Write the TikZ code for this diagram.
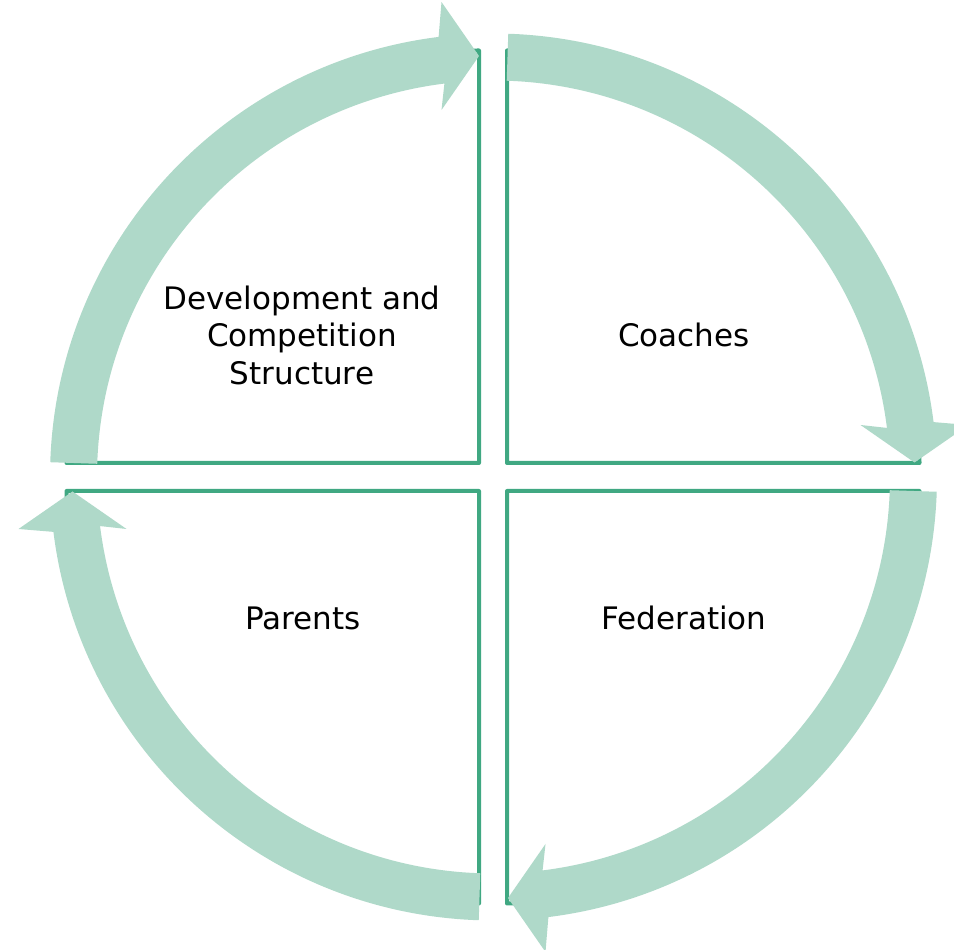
\documentclass[tikz,border=0pt]{standalone}
\usepackage{fontspec}
\setmainfont{DejaVu Sans}
\definecolor{arrowfill}{HTML}{AFD9C9}
\definecolor{boxline}{HTML}{40A882}
\begin{document}
\begin{tikzpicture}[x=1pt,y=1pt,
  quadrant/.style={draw=boxline,line width=4pt,line join=round,fill=white},
  cyclearrow/.style={fill=arrowfill},
  label/.style={font=\fontsize{31}{37.5}\selectfont,align=center,text=black,inner sep=0pt}]
\useasboundingbox (0,0) rectangle (954,950);
% quadrant sectors
\draw[quadrant] (479,487) -- (479,899.5) arc[start angle=90,end angle=180,radius=412.5] -- cycle;
\draw[quadrant] (507,487) -- (507,899.5) arc[start angle=90,end angle=0,radius=412.5] -- cycle;
\draw[quadrant] (507,459) -- (919.5,459) arc[start angle=0,end angle=-90,radius=412.5] -- cycle;
\draw[quadrant] (479,459) -- (66.5,459) arc[start angle=180,end angle=270,radius=412.5] -- cycle;
% circular arrows
\begin{scope}[shift={(493.5,473)}]
\foreach \r in {0,-90,-180,-270}{
  \fill[cyclearrow,rotate=\r]
    (178.09:443.5) arc[start angle=178.09,end angle=97.11,radius=443.5]
    -- (-52,475) -- (-14.5,421) -- (-52,367)
    -- (97.11:396.5) arc[start angle=97.11,end angle=178.09,radius=396.5] -- cycle;
}
\end{scope}
% labels
\node[label] (dev) at (302,615) {Development and\\Competition\\Structure};
\node[label] (coaches) at (684,615) {Coaches};
\node[label] (parents) at (303,332) {Parents};
\node[label] (federation) at (684,332) {Federation};
\end{tikzpicture}
\end{document}
